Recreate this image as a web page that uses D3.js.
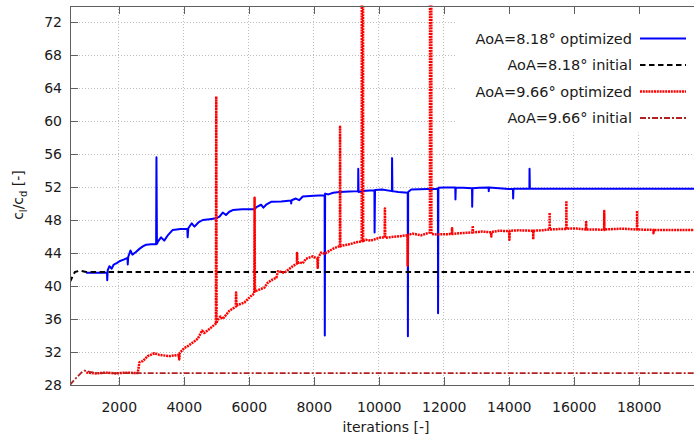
<!DOCTYPE html>
<head>
    <meta charset="utf-8">
    <title>cl/cd vs iterations</title>
    <style>
        body { margin: 0; background: #fff; }
        .axis path, .axis line { stroke: #606060; shape-rendering: crispEdges; }
        .axis text { font-family: "DejaVu Sans", sans-serif; font-size: 14px; fill: #1a1a1a; }
        .grid line { stroke: #bdbdbd; stroke-dasharray: 1,2; shape-rendering: crispEdges; }
        .label { font-family: "DejaVu Sans", sans-serif; font-size: 14px; fill: #1a1a1a; }
        .key text { font-family: "DejaVu Sans", sans-serif; font-size: 14.5px; fill: #1a1a1a; }
    </style>
</head>
<body>
<script src="https://cdn.jsdelivr.net/npm/d3@7/dist/d3.min.js"></script>
<script type="text/javascript">
    // chart data
    var xTicks = [2000, 4000, 6000, 8000, 10000, 12000, 14000, 16000, 18000]
    var yTicks = [28, 32, 36, 40, 44, 48, 52, 56, 60, 64, 68, 72]
    var seriesNames = ["AoA=8.18° optimized", "AoA=8.18° initial", "AoA=9.66° optimized", "AoA=9.66° initial"]

    // AoA=8.18 optimized (blue)
    var optA_it = [995, 1640, 1645, 1660, 1713, 1780, 1846, 1950, 2020, 2150, 2270, 2277, 2290, 2359, 2420, 2520, 2636, 2740, 2841, 3000,
        3150, 3160, 3175, 3210, 3302, 3400, 3500, 3661, 3900, 4110, 4120, 4140, 4246, 4330, 4450, 4585, 4800, 4995, 5100, 5200,
        5300, 5400, 5508, 5800, 6174, 6250, 6380, 6450, 6550, 6687, 7000, 7300, 7305, 7320, 7450, 7550, 7662, 8000, 8335, 8340,
        8350, 8450, 8600, 8790, 9100, 9365, 9370, 9380, 9600, 9867, 9872, 9885, 10100, 10405, 10410, 10420, 10600, 10892, 10897, 10905,
        11000, 11500, 11820, 11825, 11835, 12000, 12355, 12360, 12370, 12600, 12870, 12875, 12885, 13100, 13380, 13385, 13395, 13700, 14000, 14130,
        14135, 14145, 14635, 14640, 14650, 19700]
    var optA_val = [41.6, 41.6, 40.7, 41.9, 42.4, 42.1, 42.6, 42.8, 43.0, 43.2, 43.4, 42.6, 43.5, 44.3, 43.8, 44.1, 44.5, 44.8, 45.0, 45.05,
        45.05, 55.6, 45.1, 45.4, 45.9, 45.5, 46.1, 46.8, 46.9, 46.9, 45.9, 47.0, 47.6, 47.2, 47.7, 48.0, 48.1, 48.2, 48.4, 48.9,
        48.6, 49.0, 49.2, 49.3, 49.3, 49.6, 49.85, 49.5, 49.9, 50.2, 50.25, 50.35, 50.0, 50.4, 50.6, 50.4, 50.85, 50.95, 51.0, 34.0,
        51.2, 51.1, 51.3, 51.4, 51.45, 51.5, 54.2, 51.4, 51.55, 51.6, 46.5, 51.65, 51.7, 51.5, 55.5, 51.5, 51.4, 51.3, 33.9, 51.4,
        51.7, 51.75, 51.75, 36.7, 51.9, 51.95, 51.95, 50.5, 51.9, 51.9, 51.85, 49.6, 51.85, 51.9, 51.95, 51.5, 51.95, 51.85, 51.75, 51.75,
        50.6, 51.8, 51.8, 54.2, 51.8, 51.8]

    // AoA=8.18 initial (black dashed)
    var initA_it = [500, 560, 650, 800, 1000, 19700]
    var initA_val = [40.5, 41.0, 41.7, 41.85, 41.7, 41.7]

    // AoA=9.66 optimized (red dotted)
    var optB_it = [1000, 1300, 1600, 1900, 2200, 2585, 2636, 2740, 2892, 3097, 3250, 3559, 3846, 3860, 3880, 4020, 4120, 4226, 4430, 4564,
        4630, 4790, 4990, 5000, 5010, 5030, 5128, 5200, 5405, 5600, 5610, 5625, 5660, 5867, 6072, 6170, 6180, 6190, 6220, 6482,
        6585, 6738, 6850, 6900, 7100, 7354, 7480, 7487, 7495, 7559, 7660, 7760, 7969, 8110, 8123, 8135, 8226, 8330, 8585, 8805,
        8810, 8818, 8890, 9097, 9302, 9475, 9480, 9515, 9520, 9600, 9750, 10021, 10180, 10190, 10200, 10559, 10885, 10890, 10898, 11041,
        11300, 11575, 11580, 11615, 11620, 11800, 12250, 12256, 12262, 12500, 12885, 12892, 12900, 13190, 13460, 13464, 13470, 13712, 14010, 14020,
        14030, 14300, 14750, 14753, 14760, 15030, 15255, 15258, 15262, 15540, 15770, 15773, 15778, 16080, 16378, 16381, 16385, 16700, 16935, 16938,
        16942, 17450, 17945, 17948, 17952, 18450, 18454, 18460, 19700]
    var optB_val = [29.5, 29.4, 29.5, 29.4, 29.5, 29.45, 30.75, 30.9, 31.5, 31.85, 31.65, 31.5, 31.65, 31.1, 31.9, 32.5, 32.7, 33.0, 33.6, 34.6,
        34.3, 34.8, 35.45, 63.0, 35.5, 35.8, 36.3, 36.0, 37.0, 37.5, 39.2, 37.6, 37.7, 38.0, 38.8, 39.1, 50.7, 39.3, 39.4, 39.8,
        40.4, 40.8, 41.0, 41.8, 41.6, 42.4, 42.7, 44.0, 42.75, 42.9, 42.75, 43.3, 43.6, 43.3, 42.2, 43.4, 44.05, 43.9, 44.5, 44.85,
        59.3, 44.8, 44.9, 45.05, 45.3, 45.4, 100, 100, 45.45, 45.6, 45.5, 45.85, 45.9, 49.4, 45.85, 46.0, 46.15, 42.5, 46.2, 46.35,
        46.15, 46.5, 100, 100, 46.3, 46.25, 46.3, 47.0, 46.3, 46.4, 46.5, 47.3, 46.5, 46.6, 46.5, 46.0, 46.55, 46.7, 46.65, 45.6,
        46.7, 46.75, 46.7, 45.65, 46.7, 46.75, 46.85, 48.9, 46.85, 46.9, 46.9, 50.3, 46.95, 46.97, 46.85, 47.9, 46.85, 46.85, 46.8, 49.1,
        46.85, 46.95, 46.85, 49.1, 46.85, 46.8, 46.4, 46.8, 46.8]

    // AoA=9.66 initial (dark red dash-dot)
    var initB_it = [500, 560, 700, 850, 950, 1100, 1300, 1600, 19700]
    var initB_val = [28.0, 28.3, 28.9, 29.5, 29.75, 29.6, 29.45, 29.45, 29.45]

    var width = 694
    var height = 438
    // plot frame (window.top is reserved, so use prefixed names)
    var pLeft = 70, pRight = 694, pTop = 5.5, pBottom = 385

    var x = d3.scaleLinear().domain([500, 19700]).range([pLeft, pRight])
    var y = d3.scaleLinear().domain([28, 74]).range([pBottom, pTop])

    var svg = d3.select("body")
        .append("svg")
        .attr("width", width)
        .attr("height", height)

    svg.append("defs").append("clipPath")
        .attr("id", "plotclip")
        .append("rect")
        .attr("x", pLeft).attr("y", pTop)
        .attr("width", pRight - pLeft).attr("height", pBottom - pTop)

    // grid lines
    var grid = svg.append("g").attr("class", "grid")
    grid.selectAll(".gx")
        .data(xTicks)
        .enter().append("line")
        .attr("x1", function (d) { return x(d) })
        .attr("x2", function (d) { return x(d) })
        .attr("y1", pTop).attr("y2", pBottom)
    grid.selectAll(".gy")
        .data(yTicks)
        .enter().append("line")
        .attr("y1", function (d) { return y(d) })
        .attr("y2", function (d) { return y(d) })
        .attr("x1", pLeft).attr("x2", pRight)

    // one entry per curve
    var series = [
        {name: seriesNames[0], it: optA_it, val: optA_val, color: "#0000ff", w: 2, dash: null},
        {name: seriesNames[1], it: initA_it, val: initA_val, color: "#000000", w: 2, dash: "5.5,3.5"},
        {name: seriesNames[2], it: optB_it, val: optB_val, color: "#ff0000", w: 2.5, dash: "2,0.8"},
        {name: seriesNames[3], it: initB_it, val: initB_val, color: "#b22222", w: 1.8, dash: "6,2,2,2"}
    ]

    var line = d3.line()
        .x(function (d) { return x(d[0]) })
        .y(function (d) { return y(d[1]) })

    var plot = svg.append("g").attr("clip-path", "url(#plotclip)")
    series.forEach(function (s) {
        var pts = s.it.map(function (v, i) { return [v, s.val[i]] })
        plot.append("path")
            .datum(pts)
            .attr("d", line)
            .attr("fill", "none")
            .attr("stroke", s.color)
            .attr("stroke-width", s.w)
            .attr("stroke-linejoin", "round")
            .attr("stroke-dasharray", s.dash)
    })

    // opaque key box
    svg.append("rect")
        .attr("x", 455).attr("y", pTop + 1)
        .attr("width", pRight - 455).attr("height", 126)
        .attr("fill", "#fff")

    var key = svg.append("g").attr("class", "key")
    series.forEach(function (s, i) {
        var ky = 38.5 + i * 26.5
        key.append("text")
            .attr("x", 632).attr("y", ky)
            .attr("dy", "0.35em")
            .attr("text-anchor", "end")
            .text(s.name)
        key.append("line")
            .attr("x1", 640).attr("x2", 686)
            .attr("y1", ky).attr("y2", ky)
            .attr("stroke", s.color)
            .attr("stroke-width", s.w)
            .attr("stroke-dasharray", s.dash)
    })

    // axes with inward ticks
    svg.append("g")
        .attr("class", "axis")
        .attr("transform", "translate(0," + pBottom + ")")
        .call(d3.axisBottom(x).tickValues(xTicks).tickSize(-8).tickSizeOuter(0).tickPadding(17).tickFormat(d3.format("d")))
    svg.append("g")
        .attr("class", "axis")
        .attr("transform", "translate(0," + pTop + ")")
        .call(d3.axisTop(x).tickValues(xTicks).tickSize(-8).tickSizeOuter(0).tickFormat(""))
    svg.append("g")
        .attr("class", "axis")
        .attr("transform", "translate(" + pLeft + ",0)")
        .call(d3.axisLeft(y).tickValues(yTicks).tickSize(-8).tickSizeOuter(0).tickPadding(8))

    // axis titles
    svg.append("text")
        .attr("class", "label")
        .attr("x", 386).attr("y", 432)
        .attr("text-anchor", "middle")
        .text("iterations [-]")

    var yl = svg.append("text")
        .attr("class", "label")
        .attr("transform", "translate(23,195) rotate(-90)")
        .attr("text-anchor", "middle")
    yl.append("tspan").text("c")
    yl.append("tspan").attr("font-size", "10px").attr("dy", 4).text("l")
    yl.append("tspan").attr("dy", -4).text("/c")
    yl.append("tspan").attr("font-size", "10px").attr("dy", 4).text("d")
    yl.append("tspan").attr("dy", -4).text(" [-]")
</script>
</body>
